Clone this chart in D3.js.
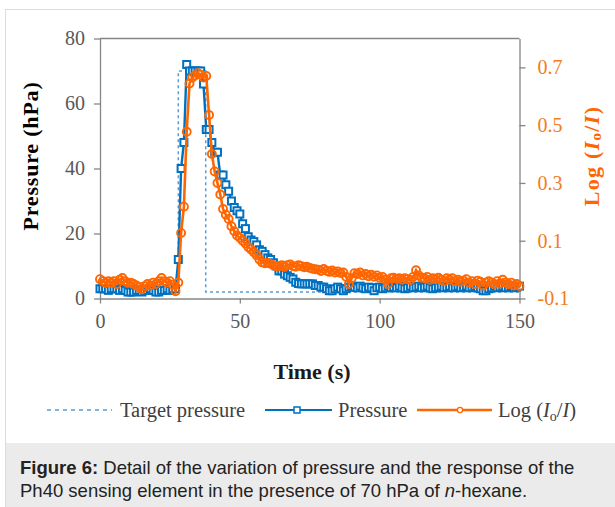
<!DOCTYPE html>
<html>
<head>
<meta charset="utf-8">
<script src="https://cdn.jsdelivr.net/npm/d3@7"></script>
<style>
  body { margin: 0; background: #fff; }
  .serif { font-family: "Liberation Serif", "Times New Roman", serif; }
  .sans { font-family: "Liberation Sans", Arial, sans-serif; }
</style>
</head>
<body>
<svg id="chart" width="615" height="507"></svg>
<script>
// Tick labels
const timeTicks = [0, 50, 100, 150];
const pressureTicks = [0, 20, 40, 60, 80];
const logTicks = [-0.1, 0.1, 0.3, 0.5, 0.7];

// Target pressure (step profile)
const targetTime = [0, 28, 28, 37.8, 37.8, 150];
const targetPressure = [2, 2, 70, 70, 2, 2];

// Measured pressure (hPa), one reading per second, t = 0 .. 150
const pressure = [
  3, 3, 3, 2.5, 3, 3, 3, 2.5, 3, 2.5,
  2, 2, 2, 2.5, 2.5, 2, 2.5, 2.5, 3, 2.5,
  2, 2, 2.5, 2.5, 3, 2.5, 3, 3, 12, 40,
  48, 72, 70, 70, 70, 70, 70, 66, 52, 52,
  48, 45, 45, 38, 38, 35, 33, 30, 28, 27,
  26, 23, 21.5, 19, 18, 17.5, 16.5, 15, 14.5, 13.5,
  12.5, 12, 11, 10, 8.5, 8.5, 7.5, 7, 6.5, 6,
  5, 4.6, 4.5, 4.5, 4.5, 4.5, 4.5, 4, 4, 3.5,
  3.5, 3, 2.4, 2.4, 3, 3.5, 3, 2.4, 3, 3.5,
  3.8, 3.5, 3.3, 3.8, 3.3, 3, 3.5, 3.3, 2.4, 3.3,
  3.5, 3, 3.3, 3.8, 3.3, 3.5, 3.3, 3.8, 3.3, 3,
  3.3, 3.8, 3.3, 3.5, 3.8, 3.3, 3.5, 3.8, 3.3, 3,
  3.3, 3.5, 3.8, 3.3, 3.5, 3.8, 3.3, 3.5, 3.8, 3.3,
  3.5, 3.8, 3.3, 3.5, 3.8, 3.3, 3, 2.4, 2.4, 3,
  3.3, 3.8, 3.3, 3.5, 3.8, 3.3, 3.5, 3.8, 3.3, 3.5, 3.8
];

// Sensor response Log(Io/I), one reading per second, t = 0 .. 150
const logResponse = [
  -0.033, -0.04, -0.046, -0.04, -0.045, -0.04, -0.05, -0.035, -0.029, -0.04,
  -0.046, -0.045, -0.05, -0.055, -0.06, -0.068, -0.057, -0.05, -0.055, -0.045,
  -0.05, -0.04, -0.029, -0.04, -0.045, -0.04, -0.052, -0.075, -0.045, 0.127,
  0.218, 0.477, 0.644, 0.665, 0.672, 0.68, 0.675, 0.665, 0.67, 0.535,
  0.40, 0.34, 0.30, 0.26, 0.21, 0.19, 0.175, 0.15, 0.133, 0.118,
  0.11, 0.1, 0.09, 0.078, 0.07, 0.06, 0.05, 0.035, 0.025, 0.022,
  0.023, 0.02, 0.015, 0.012, 0.012, 0.015, 0.01, 0.015, 0.018, 0.012,
  0.01, 0.015, 0.012, 0.008, 0.01, 0.006, 0.003, 0.001, 0, -0.005,
  0.002, -0.004, -0.008, -0.003, -0.01, -0.006, -0.012, -0.01, -0.025, -0.05,
  -0.03, -0.012, -0.015, -0.01, -0.02, -0.015, -0.023, -0.018, -0.025, -0.02,
  -0.028, -0.025, -0.035, -0.05, -0.03, -0.028, -0.032, -0.03, -0.035, -0.03,
  -0.033, -0.036, -0.025, -0.002, -0.02, -0.028, -0.03, -0.025, -0.035, -0.03,
  -0.033, -0.028, -0.035, -0.04, -0.03, -0.035, -0.03, -0.04, -0.035, -0.042,
  -0.038, -0.033, -0.045, -0.04, -0.05, -0.038, -0.042, -0.055, -0.045, -0.04,
  -0.045, -0.05, -0.04, -0.048, -0.035, -0.045, -0.05, -0.045, -0.055, -0.05, -0.057
];

const legendLabels = ['Target pressure', 'Pressure'];

var blue = '#0070c0',
  lightBlue = '#5b9bd5',
  orange = '#ff6600',
  axisGray = '#868686',
  textGray = '#595959';

var svg = d3.select('#chart');

// figure frame and caption panel
svg.append('rect')
  .attr('x', 5.5).attr('y', 9.5)
  .attr('width', 640).attr('height', 520)
  .attr('fill', 'none').attr('stroke', '#dcdcdc');
svg.append('rect')
  .attr('x', 6).attr('y', 443)
  .attr('width', 609).attr('height', 64)
  .attr('fill', '#ebebeb');

// plot area
var plotLeft = 100, plotRight = 519.5, plotTop = 38.5, plotBottom = 298.5;

var x = d3.scaleLinear().domain([0, 150]).range([plotLeft, plotRight]);
var yL = d3.scaleLinear().domain([0, 80]).range([plotBottom, plotTop]);
var yR = d3.scaleLinear().domain([-0.1, 0.8]).range([plotBottom, plotTop]);

// top border of the plot box
svg.append('line')
  .attr('x1', plotLeft).attr('x2', plotRight)
  .attr('y1', plotTop).attr('y2', plotTop)
  .attr('stroke', axisGray).attr('stroke-width', 1.3);

function styleAxis(g, color) {
  g.select('.domain').attr('stroke', axisGray).attr('stroke-width', 1.3);
  g.selectAll('.tick line').attr('stroke', axisGray).attr('stroke-width', 1.3);
  g.selectAll('.tick text')
    .attr('class', 'serif')
    .attr('fill', color)
    .attr('font-size', 20);
}

svg.append('g')
  .attr('transform', 'translate(' + plotLeft + ',0)')
  .call(d3.axisLeft(yL).tickValues(pressureTicks).tickSize(6).tickPadding(9).tickSizeOuter(0))
  .call(styleAxis, textGray);

svg.append('g')
  .attr('transform', 'translate(' + plotRight + ',0)')
  .call(d3.axisRight(yR).tickValues(logTicks).tickSize(6).tickPadding(12).tickSizeOuter(0)
    .tickFormat(function (d) { return d.toFixed(1); }))
  .call(styleAxis, '#f47b20');

svg.append('g')
  .attr('transform', 'translate(0,' + plotBottom + ')')
  .call(d3.axisBottom(x).tickValues(timeTicks).tickSize(5).tickPadding(10).tickSizeOuter(0))
  .call(styleAxis, textGray);

// axis titles
svg.append('text')
  .attr('class', 'serif')
  .attr('transform', 'translate(33,156) rotate(-90)')
  .attr('text-anchor', 'middle')
  .attr('dominant-baseline', 'middle')
  .attr('font-weight', 'bold').attr('font-size', 22)
  .attr('letter-spacing', 0.8)
  .attr('fill', '#000')
  .text('Pressure (hPa)');

var rTitle = svg.append('text')
  .attr('class', 'serif')
  .attr('transform', 'translate(594,156) rotate(-90)')
  .attr('text-anchor', 'middle')
  .attr('dominant-baseline', 'middle')
  .attr('font-weight', 'bold').attr('font-size', 22)
  .attr('letter-spacing', 1.3)
  .attr('fill', orange);
rTitle.append('tspan').text('Log (');
rTitle.append('tspan').attr('font-style', 'italic').text('I');
rTitle.append('tspan').attr('font-size', 15).attr('dy', 4).text('o');
rTitle.append('tspan').attr('dy', -4).text('/');
rTitle.append('tspan').attr('font-style', 'italic').text('I');
rTitle.append('tspan').text(')');

svg.append('text')
  .attr('class', 'serif')
  .attr('x', 312).attr('y', 379)
  .attr('text-anchor', 'middle')
  .attr('font-weight', 'bold').attr('font-size', 22)
  .attr('fill', '#1a1a1a')
  .text('Time (s)');

// series
var target = targetTime.map(function (t, i) { return [t, targetPressure[i]]; });
var pData = pressure.map(function (v, i) { return [i, v]; });
var lData = logResponse.map(function (v, i) { return [i, v]; });

svg.append('path')
  .datum(target)
  .attr('fill', 'none')
  .attr('stroke', lightBlue).attr('stroke-width', 1.5)
  .attr('stroke-dasharray', '3,3')
  .attr('d', d3.line().x(function (d) { return x(d[0]); }).y(function (d) { return yL(d[1]); }));

svg.append('path')
  .datum(pData)
  .attr('fill', 'none')
  .attr('stroke', blue).attr('stroke-width', 2.4)
  .attr('d', d3.line().x(function (d) { return x(d[0]); }).y(function (d) { return yL(d[1]); }));

svg.append('g').selectAll('rect')
  .data(pData)
  .enter()
  .append('rect')
  .attr('x', function (d) { return x(d[0]) - 3.5; })
  .attr('y', function (d) { return yL(d[1]) - 3.5; })
  .attr('width', 7).attr('height', 7)
  .attr('fill', '#fff')
  .attr('stroke', blue).attr('stroke-width', 2);

svg.append('path')
  .datum(lData)
  .attr('fill', 'none')
  .attr('stroke', orange).attr('stroke-width', 2.6)
  .attr('d', d3.line().x(function (d) { return x(d[0]); }).y(function (d) { return yR(d[1]); }));

svg.append('g').selectAll('circle')
  .data(lData)
  .enter()
  .append('circle')
  .attr('cx', function (d) { return x(d[0]); })
  .attr('cy', function (d) { return yR(d[1]); })
  .attr('r', 4)
  .attr('fill', 'none')
  .attr('stroke', orange).attr('stroke-width', 1.9);

// legend
var ly = 410;
var legend = svg.append('g').attr('font-size', 20.5).attr('fill', '#404040');

legend.append('line')
  .attr('x1', 47).attr('x2', 112).attr('y1', ly).attr('y2', ly)
  .attr('stroke', lightBlue).attr('stroke-width', 1.5).attr('stroke-dasharray', '4,4');
legend.append('text').attr('class', 'serif').attr('x', 120).attr('y', ly + 7).text(legendLabels[0]);

legend.append('line')
  .attr('x1', 265).attr('x2', 332).attr('y1', ly).attr('y2', ly)
  .attr('stroke', blue).attr('stroke-width', 2.2);
legend.append('rect')
  .attr('x', 294).attr('y', ly - 3).attr('width', 6).attr('height', 6)
  .attr('fill', '#fff').attr('stroke', blue).attr('stroke-width', 1.5);
legend.append('text').attr('class', 'serif').attr('x', 338).attr('y', ly + 7).text(legendLabels[1]);

legend.append('line')
  .attr('x1', 417).attr('x2', 492).attr('y1', ly).attr('y2', ly)
  .attr('stroke', orange).attr('stroke-width', 2.4);
legend.append('circle')
  .attr('cx', 460).attr('cy', ly).attr('r', 2.6)
  .attr('fill', '#fff').attr('stroke', orange).attr('stroke-width', 1.3);
var lt = legend.append('text').attr('class', 'serif').attr('x', 498).attr('y', ly + 7);
lt.append('tspan').text('Log (');
lt.append('tspan').attr('font-style', 'italic').text('I');
lt.append('tspan').attr('font-size', 14).attr('dy', 4).text('o');
lt.append('tspan').attr('dy', -4).text('/');
lt.append('tspan').attr('font-style', 'italic').text('I');
lt.append('tspan').text(')');

// caption
var cap = svg.append('g').attr('font-size', 18.5).attr('fill', '#222');
var c1 = cap.append('text').attr('class', 'sans').attr('x', 20).attr('y', 474);
c1.append('tspan').attr('font-weight', 'bold').text('Figure 6:');
c1.append('tspan').text(' Detail of the variation of pressure and the response of the');
var c2 = cap.append('text').attr('class', 'sans').attr('x', 20).attr('y', 497);
c2.append('tspan').text('Ph40 sensing element in the presence of 70 hPa of ');
c2.append('tspan').attr('font-style', 'italic').text('n');
c2.append('tspan').text('-hexane.');
</script>
</body>
</html>
